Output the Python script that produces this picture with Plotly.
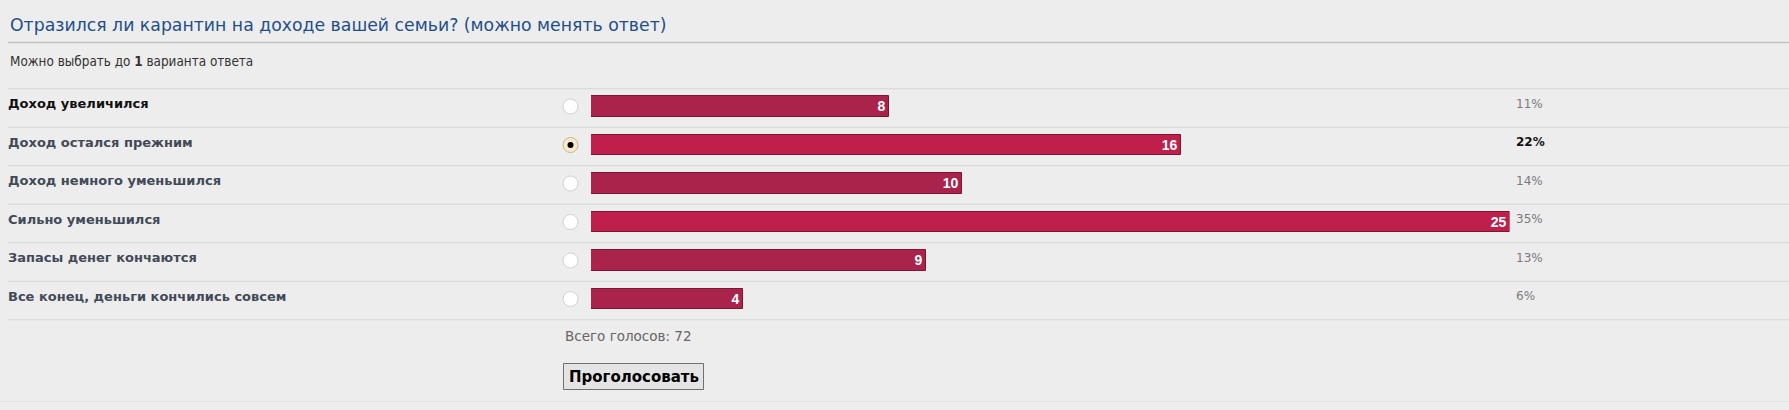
import plotly.graph_objects as go

# ---------------- data ----------------
title_text = "Отразился ли карантин на доходе вашей семьи? (можно менять ответ)"
subtitle_text = "Можно выбрать до <b>1</b> варианта ответа"
options = [
    "Доход увеличился",
    "Доход остался прежним",
    "Доход немного уменьшился",
    "Сильно уменьшился",
    "Запасы денег кончаются",
    "Все конец, деньги кончились совсем",
]
votes = [8, 16, 10, 25, 9, 4]
selected_index = 1
total_label = "Всего голосов"
button_label = "Проголосовать"

# ---------------- styling ----------------
W, H = 1789, 410
BG = "#ededed"
bar_colors = ["#a9234a", "#c01f4b", "#a9234a", "#c01f4b", "#a9234a", "#a9234a"]
label_colors = ["#111111"] + ["#424a58"] * (len(options) - 1)
FONT = "DejaVu Sans, Verdana, sans-serif"
FONT_C = "DejaVu Sans Condensed, DejaVu Sans, sans-serif"

ROW0 = 106.5      # pixel centre of first row
PITCH = 38.5      # pixel distance between rows
BAR_LEFT, BAR_RIGHT = 591.0, 1509.5
BAR_PAD_PX = 6.0  # extra padding every bar carries beyond its value

total = sum(votes)
percents = [int(v * 100 / total + 0.5) for v in votes]
idx = list(range(len(options)))

# bar axis scale: value v ends at BAR_LEFT + pad + v*unit
unit = (BAR_RIGHT - BAR_LEFT - BAR_PAD_PX) / max(votes)
pad = BAR_PAD_PX / unit

y_top = -ROW0 / PITCH
y_bot = (H - ROW0) / PITCH


def py(px):
    return 1 - px / H


fig = go.Figure()

# bars
fig.add_trace(go.Bar(
    x=[v + pad for v in votes], base=[-pad] * len(votes), y=idx, orientation="h",
    marker=dict(color=bar_colors, line=dict(color="#7d1634", width=1)),
    width=0.52,
    text=[f"<b>{v}</b>" for v in votes],
    textposition="inside", insidetextanchor="end", textangle=0,
    constraintext="none",
    textfont=dict(color="white", size=14, family="Liberation Sans, Arial, sans-serif"),
    xaxis="x2", yaxis="y", hoverinfo="skip",
))

# option labels
fig.add_trace(go.Scatter(
    x=[8] * len(options), y=[i - 0.04 for i in idx], mode="text",
    text=[f"<b>{o}</b>" for o in options], textposition="middle right",
    textfont=dict(color=label_colors, size=13, family=FONT),
    xaxis="x", yaxis="y", hoverinfo="skip",
))

# radio buttons
fig.add_trace(go.Scatter(
    x=[570.5] * len(options), y=idx, mode="markers",
    marker=dict(
        size=15,
        color=["#f6ead0" if i == selected_index else "white" for i in idx],
        line=dict(color=["#c9b58a" if i == selected_index else "#d0d0d0" for i in idx], width=1),
    ),
    xaxis="x", yaxis="y", hoverinfo="skip",
))
fig.add_trace(go.Scatter(
    x=[570.5], y=[selected_index], mode="markers",
    marker=dict(size=6, color="black"),
    xaxis="x", yaxis="y", hoverinfo="skip",
))

# percentages
fig.add_trace(go.Scatter(
    x=[1516] * len(options), y=[i - 0.04 for i in idx], mode="text",
    text=[f"<b>{p}%</b>" if i == selected_index else f"{p}%" for i, p in zip(idx, percents)],
    textposition="middle right",
    textfont=dict(color=["#111111" if i == selected_index else "#7a7a7a" for i in idx],
                  size=12, family=FONT),
    xaxis="x", yaxis="y", hoverinfo="skip",
))

shapes = []
# title underline
shapes.append(dict(type="line", xref="paper", yref="paper", x0=8 / W, x1=1,
                   y0=py(42.5), y1=py(42.5), line=dict(color="#c2c2c2", width=1.5)))
# row separators
for k in range(len(options) + 1):
    shapes.append(dict(type="line", xref="paper", yref="y", x0=8 / W, x1=1,
                       y0=k - 0.46, y1=k - 0.46, line=dict(color="#d6d6d6", width=1)))
# bottom faint line
shapes.append(dict(type="line", xref="paper", yref="paper", x0=0, x1=1,
                   y0=py(401.5), y1=py(401.5), line=dict(color="#e2e2e2", width=1)))
# button
shapes.append(dict(type="rect", xref="paper", yref="paper",
                   x0=563.5 / W, x1=703.5 / W, y0=py(389.5), y1=py(363.5),
                   fillcolor="#e4e4e4", line=dict(color="#707070", width=1)))

annotations = [
    dict(text=title_text, xref="paper", yref="paper", x=8 / W, y=py(25),
         xanchor="left", yanchor="middle", showarrow=False,
         font=dict(size=17.3, color="#1f4f8a", family=FONT)),
    dict(text=subtitle_text, xref="paper", yref="paper", x=8 / W, y=py(61),
         xanchor="left", yanchor="middle", showarrow=False,
         font=dict(size=13.4, color="#333333", family=FONT_C)),
    dict(text=f"{total_label}: {total}", xref="paper", yref="paper", x=563 / W, y=py(336),
         xanchor="left", yanchor="middle", showarrow=False,
         font=dict(size=13.5, color="#666666", family=FONT)),
    dict(text=f"<b>{button_label}</b>", xref="paper", yref="paper", x=633.5 / W, y=py(376.5),
         xanchor="center", yanchor="middle", showarrow=False,
         font=dict(size=15, color="#000000", family=FONT)),
]

fig.update_layout(
    width=W, height=H, margin=dict(l=0, r=0, t=0, b=0),
    paper_bgcolor=BG, plot_bgcolor=BG, showlegend=False,
    xaxis=dict(domain=[0, 1], range=[0, W], visible=False, fixedrange=True),
    xaxis2=dict(domain=[BAR_LEFT / W, BAR_RIGHT / W], range=[-pad, max(votes)],
                anchor="y", visible=False, fixedrange=True),
    yaxis=dict(domain=[0, 1], range=[y_bot, y_top], visible=False, fixedrange=True),
    shapes=shapes, annotations=annotations,
    bargap=0,
)

fig.write_html("out.html", config={"displayModeBar": False},
               post_script="document.body.style.margin='0';document.body.style.background='#ededed';document.body.style.overflow='hidden';")
